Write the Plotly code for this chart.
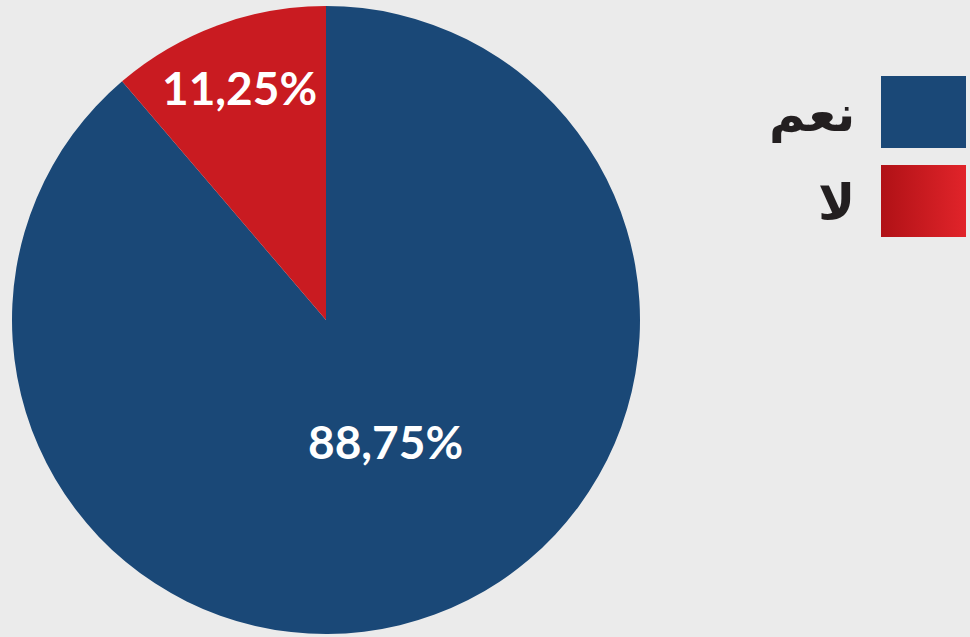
import math
import plotly.graph_objects as go

labels = ["نعم", "لا"]
values = [88.75, 11.25]
colors = ["#1a4877", "#c91b21"]
legend_gradient = [[0, "#b01116"], [1, "#e1242a"]]
label_radius_frac = [0.435, 0.78]
label_shift = [(12, 7), (-2, 3)]

fig = go.Figure()

dom_x = [12 / 970, 640 / 970]
dom_y = [3 / 637, 631 / 637]

fig.add_trace(go.Pie(
    labels=labels,
    values=values,
    sort=False,
    direction="clockwise",
    rotation=0,
    marker=dict(colors=colors, line=dict(width=0)),
    textinfo="none",
    domain=dict(x=dom_x, y=dom_y),
    showlegend=False,
    hoverinfo="label+percent",
))

# percentage labels placed along each slice's mid-angle
cx = (dom_x[0] + dom_x[1]) / 2 * 970
cy = (1 - (dom_y[0] + dom_y[1]) / 2) * 637
R = (dom_x[1] - dom_x[0]) * 970 / 2
total = sum(values)
cum = 0
for v, rf, (sx, sy) in zip(values, label_radius_frac, label_shift):
    mid = (cum + v / 2) / total * 2 * math.pi
    cum += v
    x = cx + rf * R * math.sin(mid)
    y = cy - rf * R * math.cos(mid)
    fig.add_annotation(
        x=x, y=y, xref="x", yref="y", showarrow=False,
        xshift=sx, yshift=sy,
        text=f"{v / total * 100:.2f}%".replace(".", ","),
        font=dict(family="Lato, Open Sans, sans-serif", size=46, color="white", weight="bold"),
        xanchor="center", yanchor="middle",
    )

# custom legend (RTL: text left, swatch right)
sw_x0, sw_x1 = 881, 966
sw_rows = [(76, 148), (165, 237)]
for i, (lab, col) in enumerate(zip(labels, colors)):
    y0, y1 = sw_rows[i]
    sc = dict(
        x=[sw_x0, sw_x1, sw_x1, sw_x0, sw_x0],
        y=[y0, y0, y1, y1, y0],
        mode="lines",
        line=dict(width=0),
        fill="toself",
        showlegend=False,
        hoverinfo="skip",
    )
    if i == 1:
        sc["fillgradient"] = dict(type="horizontal", colorscale=legend_gradient)
    else:
        sc["fillcolor"] = col
    fig.add_trace(go.Scatter(**sc))
    fig.add_annotation(
        x=857, y=(y0 + y1) / 2 + 2, xref="x", yref="y",
        text=lab, showarrow=False, xanchor="right", yanchor="middle",
        font=dict(family="DejaVu Sans, Noto Sans, sans-serif", size=50, color="#231f20", weight="bold"),
    )

fig.update_layout(
    width=970, height=637,
    margin=dict(l=0, r=0, t=0, b=0),
    paper_bgcolor="#ebebeb",
    plot_bgcolor="rgba(0,0,0,0)",
    xaxis=dict(range=[0, 970], visible=False, domain=[0, 1], fixedrange=True),
    yaxis=dict(range=[637, 0], visible=False, domain=[0, 1], fixedrange=True),
)

fig.write_html("out.html")
